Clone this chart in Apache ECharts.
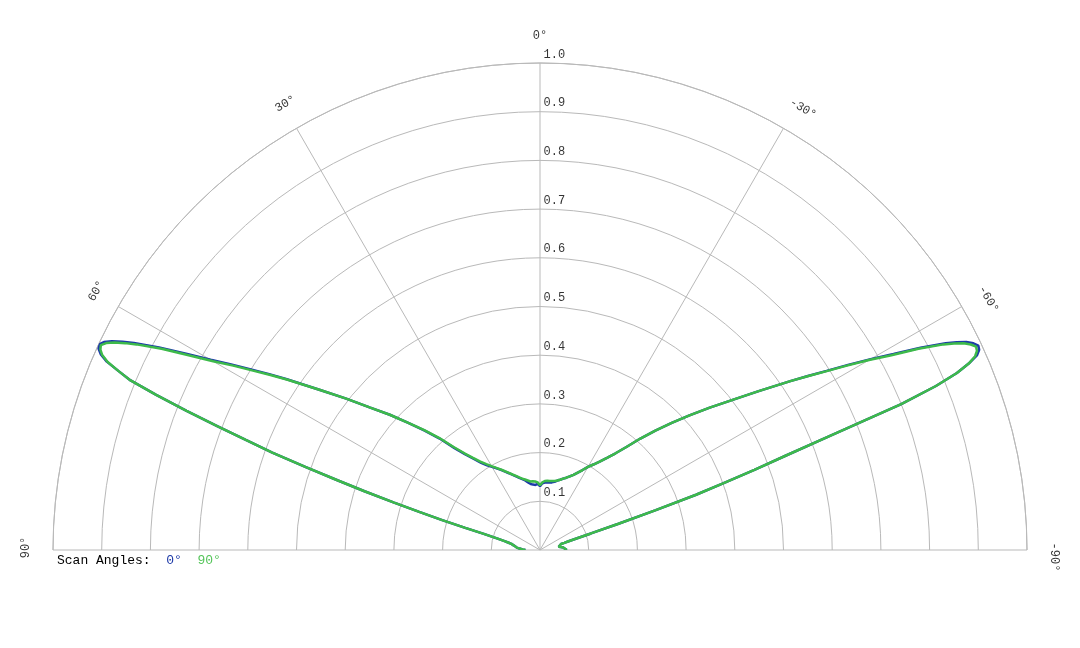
<!DOCTYPE html>
<html><head><meta charset="utf-8">
<script src="https://cdn.jsdelivr.net/npm/echarts@6/dist/echarts.min.js"></script>
<style>html,body{margin:0;padding:0;background:#fff}#c{width:1080px;height:648px}</style>
</head><body><div id="c"></div>
<script>
// ---- data ----
const scanNames = ['0°', '90°'];
const angles = [
  -90,-88,-86,-84,-82,-80,-79,-78,-77,-76,-75,-74,
  -73.5,-73,-72.5,-72,-71.5,-71,-70.5,-70,-69.5,-69,-68.5,-68,-67.5,-67,-66.5,-66,-65.5,-65,-64.5,-64,-63.5,-63,
  -62,-61,-60,-59,-58,-57,-56,
  -54,-52,-50,-48,-46,-44,-42,-40,-38,-36,-34,-32,-30,-28,-26,-24,-22,-20,-18,-16,-14,-12,-10,-8,-6,-4,-2,
  0,
  2,4,6,8,10,12,14,16,18,20,22,24,26,28,30,32,34,36,38,40,42,44,46,48,50,52,54,
  56,57,58,59,60,61,62,
  63,63.5,64,64.5,65,65.5,66,66.5,67,67.5,68,68.5,69,69.5,70,70.5,71,71.5,72,72.5,73,73.5,
  74,75,76,77,78,79,80,82,84,86,88,90
];
const scan0 = [
  0.055,0.055,0.052,0.048,0.043,0.039,0.037,0.036,0.037,0.038,0.040,0.045,
  0.052,0.06,0.08,0.11,0.17,0.25,0.34,0.40,0.47,0.54,0.64,0.80,0.88,0.93,0.96,0.982,0.991,0.993,0.986,0.974,0.956,0.935,
  0.885,0.83,0.784,0.738,0.694,0.656,0.62,
  0.555,0.50,0.455,0.413,0.376,0.341,0.308,0.276,0.252,0.234,0.219,0.207,0.197,0.186,0.177,0.169,0.163,0.158,0.154,0.150,0.147,0.143,0.141,0.140,0.140,0.139,0.137,
  0.131,
  0.136,0.134,0.135,0.137,0.141,0.146,0.150,0.154,0.159,0.164,0.170,0.176,0.183,0.190,0.197,0.205,0.216,0.231,0.249,0.273,0.308,0.341,0.376,0.415,0.455,0.505,0.56,
  0.627,0.663,0.70,0.74,0.781,0.831,0.886,
  0.936,0.958,0.978,0.992,0.999,0.996,0.987,0.97,0.94,0.91,0.85,0.78,0.71,0.645,0.585,0.51,0.44,0.38,0.315,0.26,0.21,0.16,
  0.12,0.09,0.075,0.066,0.06,0.057,0.055,0.052,0.048,0.042,0.036,0.03
];
const scan90 = [
  0.055,0.055,0.052,0.048,0.043,0.039,0.037,0.036,0.037,0.038,0.040,0.045,
  0.052,0.06,0.08,0.11,0.17,0.25,0.34,0.40,0.47,0.54,0.64,0.80,0.88,0.93,0.96,0.978,0.986,0.988,0.98,0.968,0.95,0.93,
  0.88,0.825,0.78,0.735,0.692,0.655,0.62,
  0.555,0.50,0.455,0.413,0.376,0.341,0.308,0.276,0.252,0.234,0.219,0.207,0.197,0.186,0.177,0.169,0.163,0.158,0.154,0.150,0.147,0.145,0.144,0.143,0.143,0.142,0.139,
  0.133,
  0.139,0.141,0.142,0.142,0.145,0.148,0.151,0.155,0.160,0.165,0.171,0.177,0.184,0.191,0.199,0.208,0.219,0.234,0.252,0.276,0.31,0.342,0.376,0.415,0.455,0.505,0.56,
  0.625,0.66,0.695,0.735,0.775,0.825,0.88,
  0.93,0.952,0.972,0.987,0.995,0.992,0.984,0.968,0.94,0.91,0.85,0.78,0.71,0.645,0.585,0.51,0.44,0.38,0.315,0.26,0.21,0.16,
  0.12,0.09,0.075,0.066,0.06,0.057,0.055,0.052,0.048,0.042,0.036,0.03
];
const radialTicks = [0.1,0.2,0.3,0.4,0.5,0.6,0.7,0.8,0.9,1.0];
const radialTickLabels = ['0.1','0.2','0.3','0.4','0.5','0.6','0.7','0.8','0.9','1.0'];
const angleTicks = [-90,-60,-30,0,30,60,90];
const angleTickLabels = ['-90°','-60°','-30°','0°','30°','60°','90°'];

// ---- styling ----
const FONT = '"Courier New", "Liberation Mono", monospace';
const GRID = '#b9b9b9';
const TEXT = '#000';
const BLUE = '#1d3aa8', GREEN = '#3dba4a';
const LABEL_R = 1.055;

const chart = echarts.init(document.getElementById('c'), null, {renderer: 'canvas'});
const pts = vals => angles.map((a, i) => [vals[i], a]);

chart.setOption({
  animation: false,
  backgroundColor: '#fff',
  title: {
    left: 52, top: 549,
    text: '{t|Scan Angles:  }{s0|' + scanNames[0] + '}{t|  }{s1|' + scanNames[1] + '}',
    textStyle: {
      fontFamily: FONT, fontSize: 13, fontWeight: 'normal', color: TEXT,
      rich: {
        t: {fontFamily: FONT, fontSize: 13, color: TEXT},
        s0: {fontFamily: FONT, fontSize: 13, color: BLUE},
        s1: {fontFamily: FONT, fontSize: 13, color: '#55c55a'}
      }
    }
  },
  polar: {center: [540, 550], radius: 487},
  angleAxis: {
    type: 'value', min: -90, max: 90, interval: 30,
    startAngle: 0, endAngle: 180, clockwise: false,
    axisLine: {show: true, lineStyle: {color: GRID, width: 1}},
    axisTick: {show: false},
    axisLabel: {show: false},
    splitLine: {show: true, lineStyle: {color: GRID, width: 1}}
  },
  radiusAxis: {
    type: 'value', min: 0, max: 1, interval: 0.1,
    axisLine: {show: false}, axisTick: {show: false}, axisLabel: {show: false},
    splitLine: {show: true, lineStyle: {color: GRID, width: 1}}
  },
  series: [
    {
      type: 'line', name: scanNames[0], coordinateSystem: 'polar',
      data: pts(scan0), symbol: 'none', showSymbol: false,
      lineStyle: {color: BLUE, width: 2.5}, z: 3
    },
    {
      type: 'line', name: scanNames[1], coordinateSystem: 'polar',
      data: pts(scan90), symbol: 'none', showSymbol: false,
      lineStyle: {color: GREEN, width: 2.5}, z: 4
    },
    {
      type: 'scatter', coordinateSystem: 'polar', silent: true, z: 6, clip: false,
      symbolSize: 1, itemStyle: {color: 'rgba(0,0,0,0)'},
      data: radialTicks.map((r, i) => ({value: [r, 0], label: {formatter: radialTickLabels[i]}})),
      label: {show: true, position: [4, -14], fontFamily: FONT, fontSize: 12, color: TEXT}
    },
    {
      type: 'scatter', coordinateSystem: 'polar', silent: true, z: 6, clip: false,
      symbolSize: 1, itemStyle: {color: 'rgba(0,0,0,0)'},
      data: angleTicks.map((a, i) => ({
        value: [LABEL_R, a],
        label: {formatter: angleTickLabels[i], rotate: a, offset: [a < 0 ? 7 : (a > 0 ? 2.5 : 0), 0]}
      })),
      label: {show: true, position: 'inside', fontFamily: FONT, fontSize: 12, color: TEXT}
    }
  ]
});
</script></body></html>
